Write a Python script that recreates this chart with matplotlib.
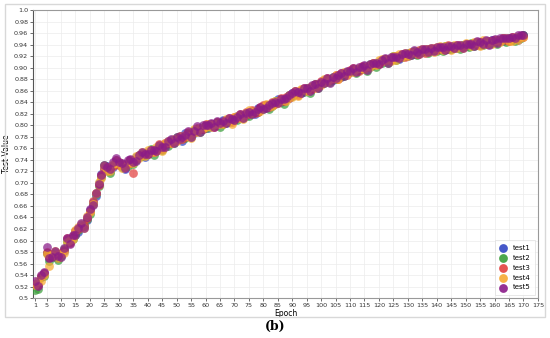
import numpy as np
import matplotlib
matplotlib.use("Agg")
import matplotlib.pyplot as plt
from matplotlib.patches import Rectangle

epochs = list(range(1, 171))

test1 = [0.523, 0.522, 0.536, 0.544, 0.579, 0.570, 0.573, 0.580, 0.570, 0.576,
         0.582, 0.603, 0.597, 0.608, 0.616, 0.615, 0.627, 0.626, 0.636, 0.653,
         0.667, 0.677, 0.700, 0.716, 0.726, 0.729, 0.721, 0.727, 0.740, 0.734,
         0.733, 0.725, 0.735, 0.734, 0.736, 0.745, 0.745, 0.752, 0.745, 0.754,
         0.754, 0.755, 0.759, 0.760, 0.764, 0.765, 0.770, 0.771, 0.774, 0.777,
         0.781, 0.773, 0.786, 0.785, 0.783, 0.787, 0.794, 0.794, 0.793, 0.801,
         0.796, 0.803, 0.802, 0.801, 0.802, 0.809, 0.804, 0.810, 0.809, 0.810,
         0.816, 0.815, 0.817, 0.816, 0.822, 0.825, 0.819, 0.830, 0.828, 0.833,
         0.831, 0.834, 0.837, 0.838, 0.845, 0.840, 0.843, 0.847, 0.847, 0.856,
         0.857, 0.856, 0.856, 0.863, 0.862, 0.864, 0.867, 0.867, 0.871, 0.872,
         0.878, 0.878, 0.880, 0.879, 0.885, 0.885, 0.884, 0.890, 0.893, 0.892,
         0.895, 0.897, 0.898, 0.897, 0.903, 0.902, 0.902, 0.904, 0.907, 0.910,
         0.913, 0.911, 0.914, 0.916, 0.916, 0.918, 0.916, 0.922, 0.924, 0.921,
         0.925, 0.924, 0.928, 0.929, 0.928, 0.929, 0.933, 0.929, 0.933, 0.933,
         0.932, 0.935, 0.935, 0.933, 0.936, 0.937, 0.934, 0.938, 0.939, 0.938,
         0.940, 0.939, 0.942, 0.945, 0.939, 0.944, 0.946, 0.942, 0.948, 0.944,
         0.946, 0.949, 0.946, 0.950, 0.948, 0.952, 0.950, 0.949, 0.954, 0.957]

test2 = [0.514, 0.516, 0.537, 0.539, 0.578, 0.565, 0.576, 0.572, 0.566, 0.573,
         0.585, 0.597, 0.600, 0.602, 0.610, 0.619, 0.623, 0.626, 0.637, 0.646,
         0.664, 0.681, 0.695, 0.710, 0.731, 0.722, 0.717, 0.731, 0.735, 0.732,
         0.727, 0.729, 0.730, 0.739, 0.732, 0.739, 0.748, 0.746, 0.749, 0.751,
         0.759, 0.748, 0.759, 0.761, 0.757, 0.768, 0.764, 0.774, 0.769, 0.779,
         0.776, 0.778, 0.778, 0.787, 0.779, 0.792, 0.791, 0.788, 0.797, 0.795,
         0.799, 0.798, 0.798, 0.806, 0.797, 0.803, 0.808, 0.806, 0.809, 0.812,
         0.810, 0.818, 0.813, 0.820, 0.817, 0.822, 0.824, 0.824, 0.830, 0.828,
         0.835, 0.829, 0.833, 0.842, 0.840, 0.845, 0.837, 0.845, 0.852, 0.851,
         0.854, 0.857, 0.860, 0.858, 0.865, 0.857, 0.865, 0.871, 0.864, 0.874,
         0.873, 0.880, 0.875, 0.884, 0.880, 0.885, 0.886, 0.886, 0.892, 0.895,
         0.898, 0.891, 0.896, 0.901, 0.899, 0.895, 0.906, 0.905, 0.902, 0.910,
         0.909, 0.915, 0.908, 0.914, 0.920, 0.914, 0.920, 0.918, 0.921, 0.925,
         0.922, 0.929, 0.922, 0.928, 0.927, 0.931, 0.926, 0.933, 0.930, 0.929,
         0.935, 0.929, 0.937, 0.933, 0.933, 0.938, 0.938, 0.933, 0.940, 0.937,
         0.936, 0.943, 0.938, 0.941, 0.943, 0.940, 0.945, 0.946, 0.943, 0.947,
         0.942, 0.948, 0.950, 0.945, 0.952, 0.949, 0.946, 0.953, 0.951, 0.956]

test3 = [0.525, 0.523, 0.539, 0.543, 0.580, 0.572, 0.577, 0.575, 0.576, 0.578,
         0.583, 0.604, 0.596, 0.607, 0.617, 0.620, 0.624, 0.627, 0.639, 0.652,
         0.669, 0.682, 0.697, 0.713, 0.725, 0.728, 0.726, 0.729, 0.739, 0.731,
         0.732, 0.731, 0.732, 0.740, 0.717, 0.741, 0.749, 0.748, 0.752, 0.750,
         0.757, 0.754, 0.756, 0.767, 0.759, 0.769, 0.769, 0.770, 0.773, 0.774,
         0.782, 0.777, 0.780, 0.789, 0.785, 0.788, 0.796, 0.793, 0.794, 0.802,
         0.800, 0.802, 0.797, 0.805, 0.804, 0.804, 0.809, 0.813, 0.805, 0.814,
         0.812, 0.819, 0.817, 0.823, 0.819, 0.826, 0.822, 0.823, 0.831, 0.835,
         0.836, 0.832, 0.840, 0.837, 0.843, 0.847, 0.842, 0.849, 0.848, 0.855,
         0.859, 0.853, 0.861, 0.865, 0.861, 0.863, 0.863, 0.872, 0.868, 0.877,
         0.877, 0.882, 0.879, 0.880, 0.887, 0.881, 0.891, 0.891, 0.888, 0.896,
         0.899, 0.896, 0.895, 0.903, 0.900, 0.901, 0.904, 0.909, 0.907, 0.907,
         0.912, 0.916, 0.913, 0.913, 0.919, 0.920, 0.918, 0.923, 0.919, 0.923,
         0.927, 0.927, 0.924, 0.930, 0.931, 0.926, 0.932, 0.932, 0.935, 0.930,
         0.936, 0.933, 0.932, 0.939, 0.936, 0.935, 0.940, 0.937, 0.936, 0.942,
         0.941, 0.941, 0.943, 0.940, 0.945, 0.944, 0.942, 0.946, 0.946, 0.948,
         0.947, 0.946, 0.951, 0.948, 0.947, 0.953, 0.951, 0.952, 0.955, 0.954]

test4 = [0.522, 0.530, 0.530, 0.541, 0.576, 0.556, 0.575, 0.581, 0.569, 0.577,
         0.578, 0.598, 0.601, 0.603, 0.619, 0.623, 0.628, 0.621, 0.642, 0.649,
         0.663, 0.682, 0.701, 0.708, 0.729, 0.721, 0.720, 0.732, 0.734, 0.737,
         0.726, 0.728, 0.737, 0.735, 0.735, 0.746, 0.743, 0.753, 0.746, 0.757,
         0.753, 0.753, 0.762, 0.765, 0.755, 0.769, 0.772, 0.769, 0.776, 0.773,
         0.777, 0.780, 0.783, 0.782, 0.778, 0.793, 0.789, 0.796, 0.795, 0.797,
         0.802, 0.797, 0.802, 0.802, 0.803, 0.802, 0.811, 0.807, 0.803, 0.815,
         0.817, 0.813, 0.811, 0.821, 0.826, 0.821, 0.825, 0.827, 0.825, 0.832,
         0.837, 0.834, 0.834, 0.843, 0.838, 0.844, 0.846, 0.843, 0.853, 0.849,
         0.860, 0.851, 0.863, 0.862, 0.859, 0.866, 0.869, 0.865, 0.869, 0.870,
         0.880, 0.876, 0.881, 0.883, 0.887, 0.880, 0.889, 0.893, 0.889, 0.894,
         0.893, 0.898, 0.900, 0.900, 0.897, 0.903, 0.901, 0.909, 0.904, 0.913,
         0.915, 0.912, 0.915, 0.912, 0.921, 0.913, 0.923, 0.919, 0.926, 0.920,
         0.928, 0.925, 0.929, 0.924, 0.933, 0.932, 0.928, 0.935, 0.928, 0.936,
         0.937, 0.930, 0.938, 0.938, 0.931, 0.940, 0.935, 0.940, 0.935, 0.943,
         0.942, 0.937, 0.945, 0.944, 0.938, 0.948, 0.942, 0.947, 0.941, 0.949,
         0.949, 0.944, 0.951, 0.951, 0.947, 0.947, 0.953, 0.948, 0.955, 0.954]

test5 = [0.529, 0.521, 0.541, 0.545, 0.588, 0.569, 0.572, 0.582, 0.573, 0.571,
         0.587, 0.604, 0.594, 0.609, 0.609, 0.621, 0.630, 0.622, 0.640, 0.654,
         0.662, 0.683, 0.699, 0.714, 0.731, 0.728, 0.725, 0.736, 0.743, 0.736,
         0.735, 0.726, 0.739, 0.742, 0.737, 0.738, 0.748, 0.754, 0.750, 0.751,
         0.758, 0.757, 0.755, 0.766, 0.763, 0.763, 0.773, 0.776, 0.769, 0.780,
         0.776, 0.779, 0.784, 0.790, 0.779, 0.791, 0.798, 0.789, 0.800, 0.800,
         0.801, 0.804, 0.797, 0.807, 0.804, 0.807, 0.804, 0.812, 0.811, 0.809,
         0.815, 0.820, 0.812, 0.822, 0.823, 0.819, 0.824, 0.828, 0.832, 0.829,
         0.830, 0.835, 0.839, 0.841, 0.838, 0.846, 0.845, 0.848, 0.852, 0.857,
         0.859, 0.858, 0.857, 0.864, 0.865, 0.859, 0.870, 0.872, 0.864, 0.876,
         0.874, 0.883, 0.874, 0.884, 0.882, 0.887, 0.890, 0.885, 0.894, 0.895,
         0.900, 0.892, 0.901, 0.902, 0.904, 0.896, 0.907, 0.908, 0.908, 0.906,
         0.914, 0.917, 0.908, 0.919, 0.919, 0.919, 0.917, 0.924, 0.926, 0.924,
         0.922, 0.930, 0.928, 0.924, 0.932, 0.932, 0.927, 0.934, 0.929, 0.936,
         0.936, 0.936, 0.931, 0.937, 0.938, 0.934, 0.940, 0.940, 0.935, 0.941,
         0.942, 0.942, 0.938, 0.946, 0.944, 0.941, 0.948, 0.940, 0.948, 0.950,
         0.943, 0.951, 0.951, 0.951, 0.951, 0.954, 0.952, 0.956, 0.956, 0.957]

series_names = ["test1", "test2", "test3", "test4", "test5"]
series_colors = ["#3246c4", "#3a9e3a", "#e3403e", "#f7a932", "#8a1a88"]

x_ticks = [1] + list(range(5, 180, 5))
y_ticks = [0.5 + 0.02 * i for i in range(26)]
y_labels = ["0.5"] + [f"{v:.2f}" for v in y_ticks[1:-1]] + ["1.0"]

fig = plt.figure(figsize=(5.5, 3.38), dpi=100)
ax = fig.add_axes([0.06, 0.118, 0.918, 0.852])

for name, vals, col in zip(series_names, [test1, test2, test3, test4, test5], series_colors):
    ax.scatter(epochs, vals, s=40, color=col, alpha=0.72, linewidths=0, label=name, zorder=3)

ax.set_xlim(0.3, 175)
ax.set_ylim(0.5, 1.0)
ax.set_xticks(x_ticks)
ax.set_xticklabels([str(t) for t in x_ticks], fontsize=4.6, color="#333333")
ax.set_yticks(y_ticks)
ax.set_yticklabels(y_labels, fontsize=4.6, color="#333333")
ax.tick_params(length=2, width=0.6, pad=1.5, colors="#555555", labelcolor="#333333")
ax.grid(True, color="#ececec", linewidth=0.5)
ax.set_axisbelow(True)

for side in ["top", "right", "bottom"]:
    ax.spines[side].set_color("#999999")
    ax.spines[side].set_linewidth(0.8)
ax.spines["left"].set_color("#555555")
ax.spines["left"].set_linewidth(0.8)

ax.set_xlabel("Epoch", fontsize=5.5, labelpad=1)
ax.set_ylabel("Test Value", fontsize=5.5, labelpad=2)

leg = ax.legend(loc="lower right", fontsize=5, frameon=True, fancybox=False,
                handletextpad=0.8, borderpad=0.7, labelspacing=0.55,
                markerscale=1.0, handlelength=1.0, borderaxespad=0.4)
leg.get_frame().set_edgecolor("#dddddd")
leg.get_frame().set_linewidth(0.6)
for h in leg.legend_handles:
    h.set_alpha(0.9)

# outer frame around the chart
fig.patches.append(Rectangle((0.009, 0.062), 0.982, 0.926, transform=fig.transFigure,
                             fill=False, edgecolor="#d8d8d8", linewidth=1.0))

fig.text(0.5, 0.033, "(b)", ha="center", va="center", fontsize=9,
         family="DejaVu Serif", fontweight="bold")

fig.savefig("out.png", dpi=100)
